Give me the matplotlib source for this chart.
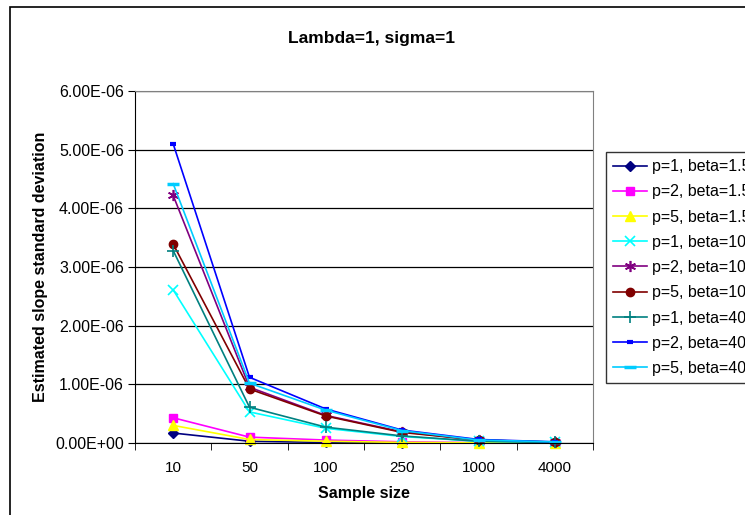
import matplotlib.pyplot as plt
from matplotlib.patches import Rectangle

plt.rcParams['font.family'] = ['Liberation Sans', 'DejaVu Sans']

sample_sizes = ['10', '50', '100', '250', '1000', '4000']

# estimated slope standard deviation, in units of 1e-6
p1_b15 = [0.17, 0.03, 0.01, 0.005, 0.002, 0.001]
p2_b15 = [0.43, 0.10, 0.05, 0.02, 0.005, 0.002]
p5_b15 = [0.30, 0.06, 0.03, 0.01, 0.004, 0.001]
p1_b10 = [2.61, 0.53, 0.25, 0.11, 0.03, 0.01]
p2_b10 = [4.22, 0.95, 0.47, 0.19, 0.05, 0.015]
p5_b10 = [3.39, 0.92, 0.46, 0.18, 0.05, 0.015]
p1_b40 = [3.28, 0.61, 0.27, 0.12, 0.03, 0.01]
p2_b40 = [5.10, 1.12, 0.58, 0.22, 0.06, 0.02]
p5_b40 = [4.42, 1.02, 0.56, 0.21, 0.05, 0.02]

series = [
    ('p=1, beta=1.5', p1_b15, '#000080', 'D', 5, 1),
    ('p=2, beta=1.5', p2_b15, '#FF00FF', 's', 6, 1),
    ('p=5, beta=1.5', p5_b15, '#FFFF00', '^', 7, 1),
    ('p=1, beta=10', p1_b10, '#00FFFF', 'x', 7, 1.2),
    ('p=2, beta=10', p2_b10, '#800080', (6, 2, 0), 8, 1.2),
    ('p=5, beta=10', p5_b10, '#800000', 'o', 6, 1),
    ('p=1, beta=40', p1_b40, '#008080', '+', 8, 1.2),
    ('p=2, beta=40', p2_b40, '#0000FF', '_', 5, 3),
    ('p=5, beta=40', p5_b40, '#00CCFF', '_', 8, 2.5),
]

fs = 11.5

fig = plt.figure(figsize=(7.45, 5.15), dpi=100)
ax = fig.add_axes([135 / 745, 1 - 443 / 515, (593 - 135) / 745, (443 - 91) / 515])

# outer chart border
fig.patches.append(Rectangle((10 / 745, -0.1), 1.2, 1.1 - 7 / 515,
                             transform=fig.transFigure, fill=False,
                             edgecolor='black', linewidth=1.2))

x = list(range(len(sample_sizes)))
for label, vals, color, marker, ms, mew in series:
    ys = [v * 1e-6 for v in vals]
    ax.plot(x, ys, color=color, marker=marker, markersize=ms,
            markeredgewidth=mew, markeredgecolor=color, linewidth=1.2,
            label=label, clip_on=False)

ax.set_xlim(-0.5, len(sample_sizes) - 0.5)
ax.set_ylim(0, 6e-6)
ax.set_xticks(x)
ax.set_xticklabels(sample_sizes, fontsize=11)
ax.set_xticks([i - 0.5 for i in range(len(sample_sizes) + 1)], minor=True)
ax.tick_params(axis='x', which='major', length=0, pad=13)
ax.tick_params(axis='x', which='minor', length=5, direction='out')

yt = [i * 1e-6 for i in range(7)]
ax.set_yticks(yt)
ax.set_yticklabels(['%.2E' % v for v in yt], fontsize=fs)
ax.tick_params(axis='y', length=5, direction='out', pad=3)
ax.yaxis.grid(True, color='black', linewidth=0.9)
ax.set_axisbelow(True)

for s in ['top', 'right']:
    ax.spines[s].set_color('#808080')
for s in ['left', 'bottom']:
    ax.spines[s].set_color('black')

ax.set_xlabel('Sample size', fontsize=fs, fontweight='bold', labelpad=8)
ax.set_ylabel('Estimated slope standard deviation', fontsize=fs,
              fontweight='bold', labelpad=5)
fig.text(372 / 745, 1 - 38 / 515, 'Lambda=1, sigma=1', fontsize=12.5,
         fontweight='bold', ha='center', va='center')

leg = fig.legend(loc='upper left', bbox_to_anchor=(606 / 745, 1 - 152 / 515),
                 fontsize=fs, frameon=True, fancybox=False, handlelength=2.1,
                 labelspacing=0.64, borderaxespad=0, handletextpad=0.3,
                 borderpad=0.45)
leg.get_frame().set_edgecolor('black')
leg.get_frame().set_linewidth(1.0)

fig.savefig('out.png', dpi=100)
